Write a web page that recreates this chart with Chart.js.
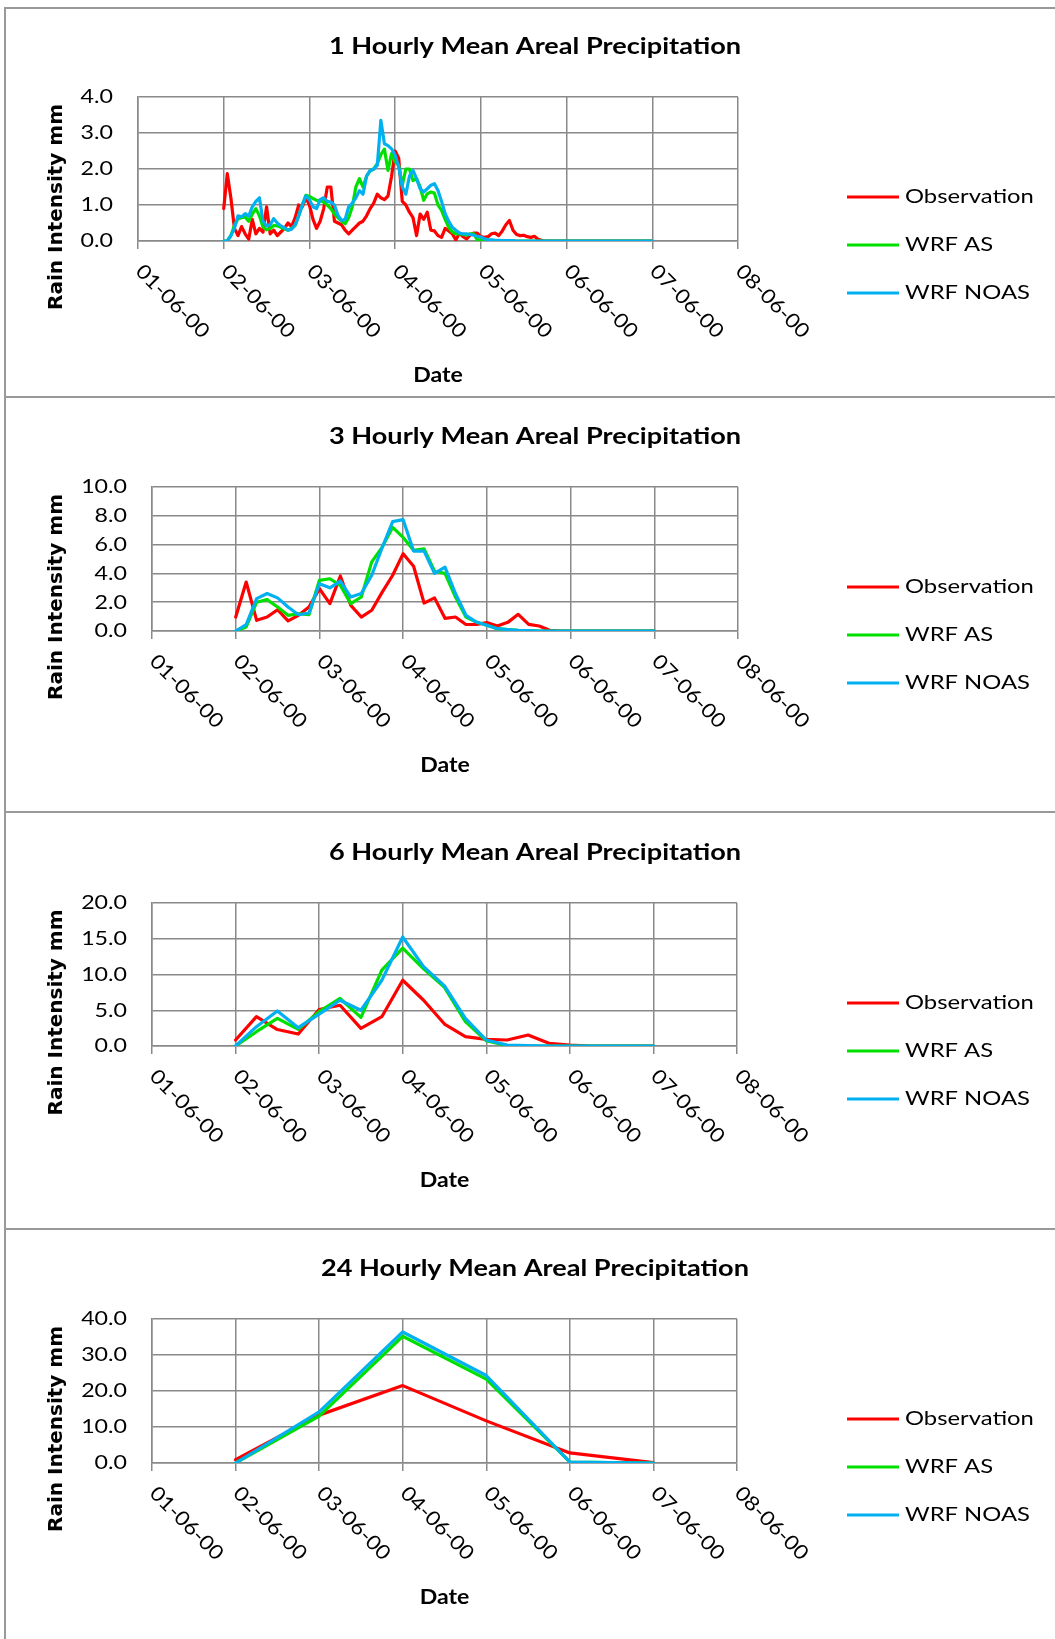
<!DOCTYPE html>
<html lang="en">
<head>
<meta charset="UTF-8">
<title>Mean Areal Precipitation</title>
<script src="https://cdn.jsdelivr.net/npm/chart.js@4.4.0/dist/chart.umd.min.js"></script>
<style>
    body { margin: 0; background: #fff; }
    #page { position: relative; width: 1055px; height: 1639px; overflow: hidden; }
    .rule { position: absolute; background: #999; }
    canvas { position: absolute; left: 0; }
</style>
</head>
<body>
<div id="page"></div>
<script>
// tick labels and legend
const dateLabels = ['01-06-00', '02-06-00', '03-06-00', '04-06-00', '05-06-00', '06-06-00', '07-06-00', '08-06-00'];
const seriesNames = ['Observation', 'WRF AS', 'WRF NOAS'];
const seriesColors = ['#ff0000', '#00e000', '#00b0f0'];

// 1 hourly, 02-06-00 00:00 .. 07-06-00 00:00
const obs1h = [
    0.9, 1.87, 1.2, 0.35, 0.15, 0.4, 0.2, 0.05, 0.6, 0.2,
    0.35, 0.25, 0.95, 0.2, 0.3, 0.15, 0.25, 0.35, 0.5, 0.4,
    0.65, 1.0, 0.95, 1.2, 1.0, 0.6, 0.35, 0.55, 0.9, 1.5,
    1.5, 0.55, 0.5, 0.45, 0.3, 0.2, 0.3, 0.4, 0.5, 0.55,
    0.7, 0.9, 1.05, 1.3, 1.2, 1.15, 1.25, 1.8, 2.5, 2.3,
    1.1, 1.0, 0.8, 0.65, 0.15, 0.75, 0.6, 0.8, 0.3, 0.28,
    0.15, 0.1, 0.35, 0.28, 0.2, 0.03, 0.22, 0.12, 0.06, 0.16,
    0.22, 0.22, 0.12, 0.1, 0.12, 0.2, 0.22, 0.15, 0.28, 0.45,
    0.57, 0.3, 0.18, 0.15, 0.16, 0.12, 0.1, 0.13, 0.05, 0.02,
    0, 0, 0, 0, 0, 0, 0, 0, 0, 0,
    0, 0, 0, 0, 0, 0, 0, 0, 0, 0,
    0, 0, 0, 0, 0, 0, 0, 0, 0, 0,
    0
];
const as1h = [
    0, 0, 0.15, 0.43, 0.62, 0.65, 0.67, 0.55, 0.75, 0.9,
    0.7, 0.39, 0.31, 0.35, 0.43, 0.42, 0.38, 0.34, 0.3, 0.35,
    0.43, 0.7, 1.0, 1.27, 1.24, 1.18, 1.13, 1.12, 1.08, 1.0,
    0.9, 0.75, 0.65, 0.55, 0.48, 0.65, 0.95, 1.5, 1.73, 1.5,
    1.8, 1.95, 2.0, 2.15, 2.4, 2.55, 1.96, 2.43, 2.2, 2.1,
    1.55, 2.0, 2.0, 1.68, 1.73, 1.5, 1.13, 1.31, 1.36, 1.33,
    1.0, 0.85, 0.6, 0.38, 0.25, 0.2, 0.2, 0.18, 0.16, 0.2,
    0.2, 0.04, 0.03, 0.02, 0.02, 0.02, 0.01, 0.01, 0.01, 0.01,
    0.01, 0, 0, 0, 0, 0, 0, 0, 0, 0,
    0, 0, 0, 0, 0, 0, 0, 0, 0, 0,
    0, 0, 0, 0, 0, 0, 0, 0, 0, 0,
    0, 0, 0, 0, 0, 0, 0, 0, 0, 0,
    0
];
const noas1h = [
    0, 0, 0.15, 0.35, 0.7, 0.67, 0.76, 0.69, 0.95, 1.1,
    1.2, 0.55, 0.42, 0.45, 0.62, 0.5, 0.42, 0.37, 0.3, 0.33,
    0.45, 0.7, 1.0, 1.25, 1.15, 0.95, 0.9, 1.15, 1.2, 1.1,
    1.08, 1.0, 0.71, 0.57, 0.6, 0.95, 1.05, 1.2, 1.4, 1.3,
    1.8, 1.96, 2.0, 2.1, 3.35, 2.7, 2.65, 2.56, 2.38, 2.06,
    1.5, 1.3, 1.8, 1.96, 1.73, 1.45, 1.36, 1.45, 1.55, 1.59,
    1.4, 1.1, 0.76, 0.55, 0.38, 0.3, 0.22, 0.2, 0.2, 0.18,
    0.16, 0.13, 0.11, 0.06, 0.04, 0.03, 0.02, 0.02, 0.01, 0.01,
    0.01, 0.01, 0, 0, 0, 0, 0, 0, 0, 0,
    0, 0, 0, 0, 0, 0, 0, 0, 0, 0,
    0, 0, 0, 0, 0, 0, 0, 0, 0, 0,
    0, 0, 0, 0, 0, 0, 0, 0, 0, 0,
    0
];

// 3 hourly
const obs3h = [
    0.97, 3.4, 0.74, 0.97, 1.48, 0.7, 1.09, 1.67, 2.94, 1.9,
    3.82, 1.78, 0.97, 1.44, 2.7, 3.87, 5.37, 4.5, 1.94, 2.3,
    0.88, 0.97, 0.45, 0.45, 0.58, 0.35, 0.6, 1.16, 0.46, 0.35,
    0.05, 0, 0, 0, 0, 0, 0, 0, 0, 0,
    0
];
const as3h = [
    0, 0.28, 2.0, 2.18, 1.67, 1.09, 1.2, 1.13, 3.52, 3.63,
    3.17, 1.9, 2.36, 4.8, 5.83, 7.2, 6.5, 5.6, 5.7, 4.15,
    4.0, 2.36, 0.97, 0.62, 0.4, 0.16, 0.1, 0.05, 0.02, 0,
    0, 0, 0, 0, 0, 0, 0, 0, 0, 0,
    0
];
const noas3h = [
    0, 0.44, 2.25, 2.6, 2.3, 1.67, 1.13, 1.25, 3.28, 3.0,
    3.47, 2.36, 2.6, 3.87, 5.8, 7.6, 7.73, 5.55, 5.55, 4.0,
    4.44, 2.6, 1.09, 0.62, 0.4, 0.16, 0.1, 0.05, 0.02, 0,
    0, 0, 0, 0, 0, 0, 0, 0, 0, 0,
    0
];

// 6 hourly
const obs6h = [0.84, 4.1, 2.3, 1.67, 5.1, 5.7, 2.47, 4.1, 9.2, 6.4, 3.07, 1.3, 0.93, 0.84, 1.53, 0.37, 0.14, 0, 0, 0, 0];
const as6h = [0, 2.0, 3.86, 2.33, 4.8, 6.65, 4.0, 10.6, 13.7, 10.8, 8.2, 3.4, 0.74, 0.05, 0, 0, 0, 0, 0, 0, 0];
const noas6h = [0, 2.7, 4.9, 2.56, 4.47, 6.4, 5.0, 9.2, 15.25, 11.1, 8.4, 3.86, 0.84, 0.14, 0.05, 0, 0, 0, 0, 0, 0];

// 24 hourly
const obs24h = [0.93, 13.3, 21.5, 11.7, 2.8, 0.1];
const as24h = [0, 13.0, 35.2, 23.3, 0.28, 0];
const noas24h = [0, 14.2, 36.4, 24.3, 0.28, 0];

const W = 1055;
const GRID = '#898989';
const TICK = 8;

const panels = [
    { title: '1 Hourly Mean Areal Precipitation', step: 1, series: [obs1h, as1h, noas1h], yMax: 4, yStep: 1,
      top: 8, bottom: 397, plotTop: 97, plotBottom: 241, plotLeft: 138, plotRight: 738 },
    { title: '3 Hourly Mean Areal Precipitation', step: 3, series: [obs3h, as3h, noas3h], yMax: 10, yStep: 2,
      top: 397, bottom: 812, plotTop: 487, plotBottom: 631, plotLeft: 152, plotRight: 738 },
    { title: '6 Hourly Mean Areal Precipitation', step: 6, series: [obs6h, as6h, noas6h], yMax: 20, yStep: 5,
      top: 812, bottom: 1229, plotTop: 903, plotBottom: 1046, plotLeft: 152, plotRight: 737 },
    { title: '24 Hourly Mean Areal Precipitation', step: 24, series: [obs24h, as24h, noas24h], yMax: 40, yStep: 10,
      top: 1229, bottom: 1639, plotTop: 1319, plotBottom: 1463, plotLeft: 152, plotRight: 737 }
];

const page = document.getElementById('page');

function rule(x, y, w, h) {
    const d = document.createElement('div');
    d.className = 'rule';
    d.style.left = x + 'px'; d.style.top = y + 'px';
    d.style.width = w + 'px'; d.style.height = h + 'px';
    page.appendChild(d);
}
rule(4, 7, W - 4, 2);
rule(4, 7, 2, 1639 - 7);
[396, 811, 1228].forEach(y => rule(4, y, W - 4, 2));

// text with a horizontal stretch (sx) along the text direction
function put(ctx, str, x, y, font, align, sx, rot) {
    ctx.save();
    ctx.translate(x, y);
    if (rot) ctx.rotate(rot);
    ctx.scale(sx, 1);
    ctx.font = font;
    ctx.textAlign = align;
    ctx.textBaseline = 'middle';
    ctx.fillStyle = '#000';
    ctx.fillText(str, 0, 0);
    ctx.restore();
}

const excelText = {
    id: 'excelText',
    afterDraw(chart, args, opts) {
        const ctx = chart.ctx;
        const area = chart.chartArea;
        const xs = chart.scales.x, ys = chart.scales.y;
        const midX = (area.left + area.right) / 2;
        const midY = (area.top + area.bottom) / 2;

        put(ctx, opts.title, 535, area.top - 50, 'bold 23px Lato', 'center', 1.18);

        ys.ticks.forEach(t => {
            put(ctx, t.value.toFixed(1), area.left - 25, ys.getPixelForValue(t.value), '20px Lato', 'right', 1.16);
        });

        put(ctx, 'Rain Intensity mm', 57, midY + 38, 'bold 20px "DejaVu Sans"', 'center', 1.0, -Math.PI / 2);

        xs.ticks.forEach((t, i) => {
            put(ctx, dateLabels[i], xs.getPixelForValue(t.value) + 1, area.bottom + 27, '20px Lato', 'left', 1.12, Math.PI / 4);
        });

        put(ctx, 'Date', midX, area.bottom + 134, 'bold 21px Lato', 'center', 1.1);

        seriesNames.forEach((name, k) => {
            const y = area.top + 100 + 48 * k;
            ctx.save();
            ctx.strokeStyle = seriesColors[k];
            ctx.lineWidth = 3;
            ctx.beginPath();
            ctx.moveTo(847, y);
            ctx.lineTo(899, y);
            ctx.stroke();
            ctx.restore();
            put(ctx, name, 905, y, '20px Lato', 'left', 1.19);
        });
    }
};

panels.forEach(p => {
    const h = p.bottom - p.top;
    const canvas = document.createElement('canvas');
    canvas.width = W;
    canvas.height = h;
    canvas.style.top = p.top + 'px';
    page.appendChild(canvas);

    const datasets = p.series.map((values, k) => ({
        label: seriesNames[k],
        data: values.map((v, i) => ({ x: 24 + i * p.step, y: v })),
        borderColor: seriesColors[k],
        borderWidth: 3.2,
        borderJoinStyle: 'round',
        borderCapStyle: 'round',
        pointRadius: 0,
        tension: 0,
        fill: false,
        order: 3 - k
    }));

    new Chart(canvas, {
        type: 'line',
        data: { datasets },
        options: {
            responsive: false,
            animation: false,
            devicePixelRatio: 1,
            layout: {
                padding: {
                    left: p.plotLeft,
                    right: W - p.plotRight,
                    top: p.plotTop - p.top,
                    bottom: p.bottom - p.plotBottom - TICK
                }
            },
            plugins: {
                legend: { display: false },
                title: { display: false },
                tooltip: { enabled: false },
                excelText: { title: p.title }
            },
            scales: {
                x: {
                    type: 'linear', min: 0, max: 168,
                    ticks: { display: false, stepSize: 24 },
                    grid: { color: GRID, lineWidth: 1.5, tickLength: TICK, drawTicks: true },
                    border: { color: GRID, width: 1.5 },
                    afterFit: s => { s.height = TICK; }
                },
                y: {
                    min: 0, max: p.yMax,
                    ticks: { display: false, stepSize: p.yStep },
                    grid: { color: GRID, lineWidth: 1.5, drawTicks: false },
                    border: { color: GRID, width: 1.5 },
                    afterFit: s => { s.width = 0; }
                }
            }
        },
        plugins: [excelText]
    });
});
</script>
</body>
</html>
